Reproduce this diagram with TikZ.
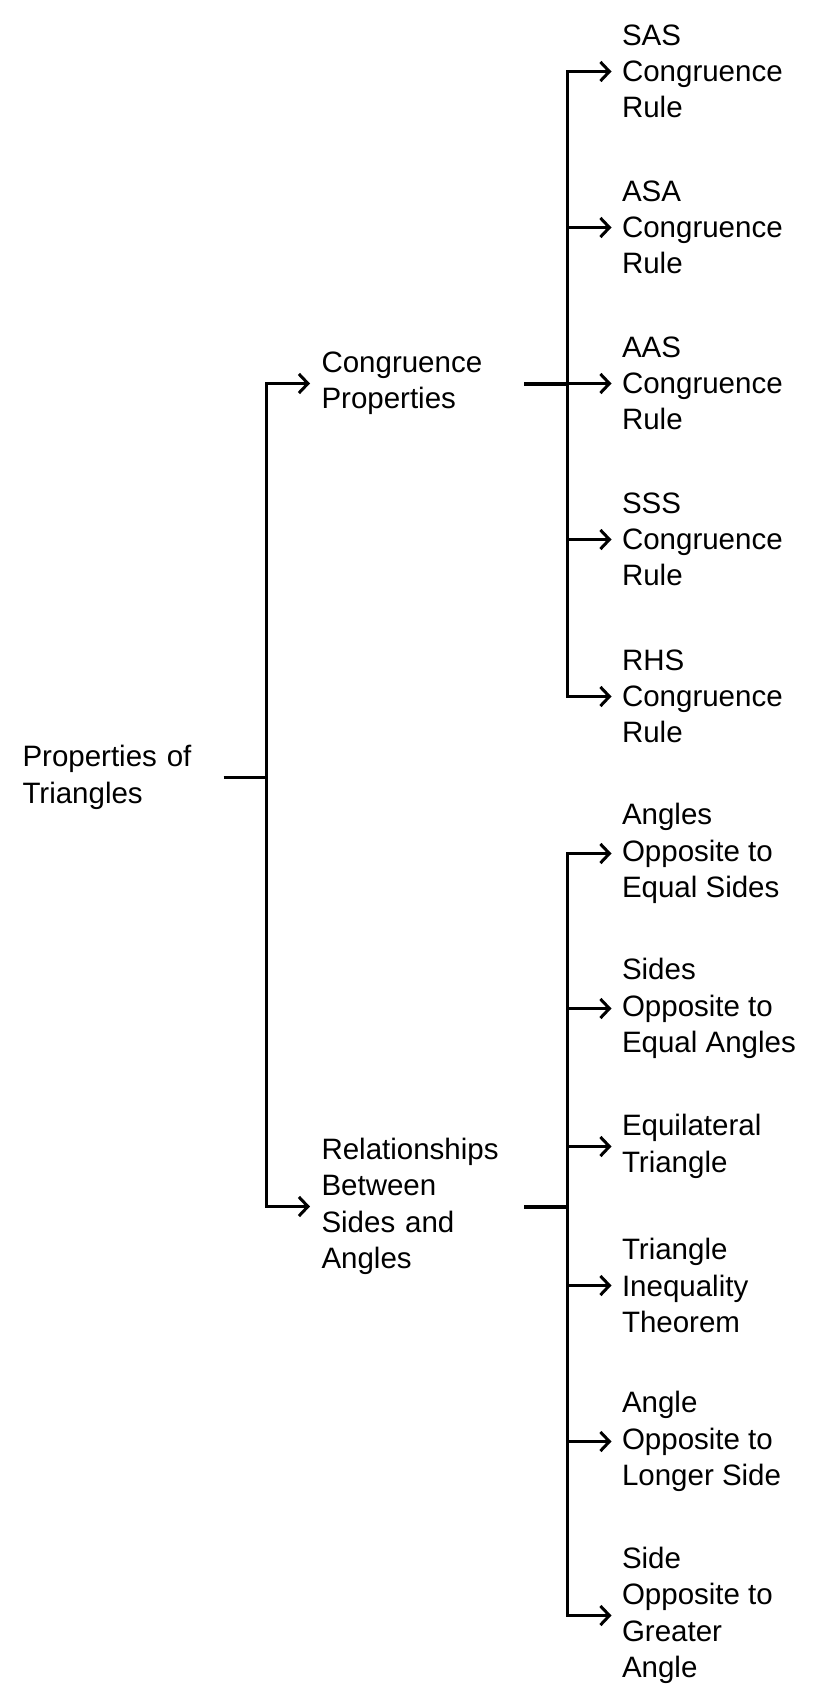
\documentclass[tikz,border=0pt]{standalone}
\usepackage{fontspec}
\setmainfont{Liberation Sans}
\usetikzlibrary{arrows.meta,positioning}

\begin{document}
\begin{tikzpicture} [x=1pt, y=-1pt, line width=3pt,
          nodes={inner sep=0, align=left, anchor=west,
            font=\fontsize{29.5}{36.3}\selectfont},
          topic/.style={inner xsep=10pt, text width=191pt},
          leaf/.style={inner xsep=9pt},
          branch/.style={-{Straight Barb[length=9pt, width=19pt]}}]
  \useasboundingbox (0,0) rectangle (816,1704);
  % root and the two topics
  \node[text width=199.5pt] (root) at (21,777.5) {Properties of\\Triangles};
  \node[topic] (cong) at (310,383.5) {Congruence\\Properties};
  \node[topic] (rel) at (310,1206.5) {Relationships\\Between\\Sides and\\Angles};
  \coordinate (rootj) at (266.5,777.5);
  \coordinate (congj) at (567.5,383.5);
  \coordinate (relj) at (567.5,1206.5);
  % leaves
  \node[leaf] (sas) at (611.5,71.5) {SAS\\Congruence\\Rule};
  \node[leaf] (asa) at (611.5,227.5) {ASA\\Congruence\\Rule};
  \node[leaf] (aas) at (611.5,383.5) {AAS\\Congruence\\Rule};
  \node[leaf] (sss) at (611.5,539.5) {SSS\\Congruence\\Rule};
  \node[leaf] (rhs) at (611.5,696.5) {RHS\\Congruence\\Rule};
  \node[leaf] (aoes) at (611.5,853.5) {Angles\\Opposite to\\Equal Sides};
  \node[leaf] (soea) at (611.5,1008.5) {Sides\\Opposite to\\Equal Angles};
  \node[leaf] (eqt) at (611.5,1146.5) {Equilateral\\Triangle};
  \node[leaf] (tit) at (611.5,1285.5) {Triangle\\Inequality\\Theorem};
  \node[leaf] (aols) at (611.5,1441.5) {Angle\\Opposite to\\Longer Side};
  \node[leaf] (soga) at (611.5,1615.5) {Side\\Opposite to\\Greater\\Angle};
  % connectors
  \draw (root.east) -- (rootj);
  \draw[line width=4pt] (cong.east) -- (congj);
  \draw[line width=4pt] (rel.east) -- (relj);
  \foreach \t in {cong, rel}
    \draw[branch] (rootj) |- (\t.west);
  \foreach \t in {sas, asa, aas, sss, rhs}
    \draw[branch] (congj) |- (\t.west);
  \foreach \t in {aoes, soea, eqt, tit, aols, soga}
    \draw[branch] (relj) |- (\t.west);
\end{tikzpicture}
\end{document}
